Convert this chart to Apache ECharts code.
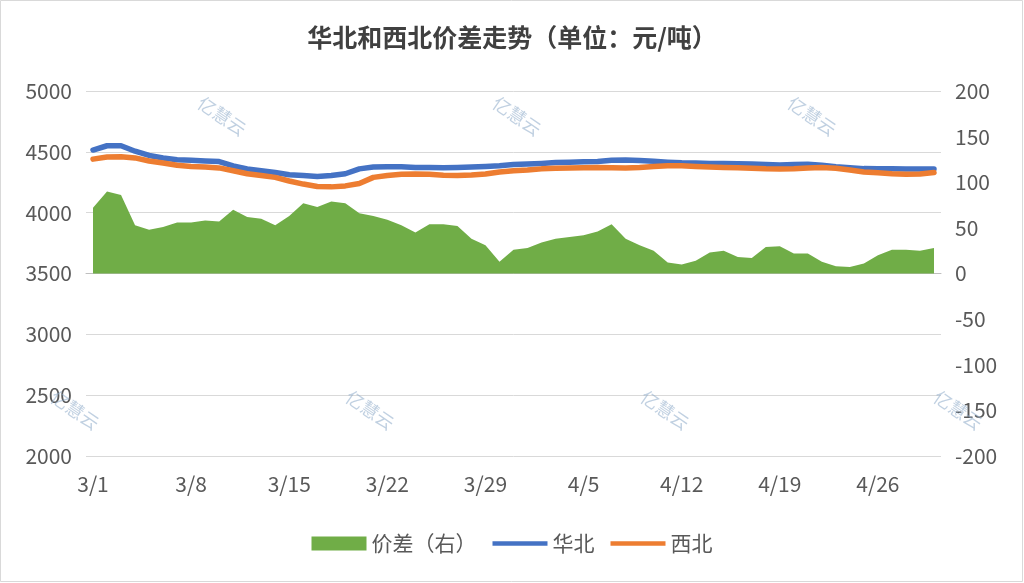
<!DOCTYPE html>
<html>
<head>
<meta charset="utf-8">
<script src="https://cdn.jsdelivr.net/npm/echarts@6/dist/echarts.min.js"></script>
<style>
  html, body { margin: 0; padding: 0; background: #fff; }
  #chart { width: 1024px; height: 583px; }
</style>
</head>
<body>
<div id="chart"></div>
<script>
// Daily dates, 3/1 – 4/30
const dates = [
  '3/1','3/2','3/3','3/4','3/5','3/6','3/7','3/8','3/9','3/10',
  '3/11','3/12','3/13','3/14','3/15','3/16','3/17','3/18','3/19','3/20',
  '3/21','3/22','3/23','3/24','3/25','3/26','3/27','3/28','3/29','3/30',
  '3/31','4/1','4/2','4/3','4/4','4/5','4/6','4/7','4/8','4/9',
  '4/10','4/11','4/12','4/13','4/14','4/15','4/16','4/17','4/18','4/19',
  '4/20','4/21','4/22','4/23','4/24','4/25','4/26','4/27','4/28','4/29','4/30'
];

// 华北 price (left axis, 元/吨)
const northChina = [
  4515, 4550, 4550, 4505, 4470, 4450, 4435, 4430, 4425, 4420,
  4385, 4360, 4345, 4330, 4312, 4305, 4298, 4305, 4320, 4360,
  4375, 4378, 4378, 4372, 4372, 4370, 4372, 4375, 4380, 4385,
  4395, 4400, 4405, 4412, 4415, 4418, 4420, 4430, 4432, 4428,
  4422, 4415, 4410, 4408, 4405, 4405, 4402, 4400, 4395, 4392,
  4395, 4398, 4390, 4378, 4370, 4362, 4360, 4360, 4358, 4358, 4358
];

// 西北 price (left axis, 元/吨)
const northwest = [
  4440, 4458, 4460, 4450, 4425, 4408, 4390, 4380, 4375, 4368,
  4345, 4320, 4305, 4290, 4260, 4235, 4215, 4212, 4220, 4240,
  4290, 4305, 4315, 4318, 4315, 4308, 4305, 4310, 4318, 4335,
  4345, 4350, 4360, 4365, 4368, 4370, 4372, 4370, 4368, 4372,
  4380, 4385, 4385, 4380, 4375, 4372, 4370, 4365, 4360, 4358,
  4360, 4368, 4372, 4365, 4350, 4335, 4328, 4320, 4315, 4318, 4330
];

// 价差 (right axis, 元/吨)
const spread = [
  72, 90, 86, 53, 48, 51, 56, 56, 58, 57,
  70, 62, 60, 53, 63, 77, 73, 79, 77, 66,
  63, 59, 53, 45, 54, 54, 52, 38, 31, 13,
  26, 28, 34, 38, 40, 42, 46, 54, 38, 31,
  25, 12, 10, 14, 23, 25, 18, 17, 29, 30,
  22, 22, 13, 8, 7, 11, 20, 26, 26, 25, 28
];

const seriesNames = ['价差（右）', '华北', '西北'];
const titleText = '华北和西北价差走势（单位：元/吨）';
const watermarkText = '亿慧云';

const FONT = '"Microsoft YaHei", "Noto Sans CJK SC", sans-serif';
const LABEL_COLOR = '#595959';
// Thin bar used as the legend swatch for the two price lines
const LINE_ICON = 'path://M0,0H60V5H0Z';

// Faint diagonal watermark stamps
const stampSpots = [
  [222, 116], [517, 116], [812, 116],
  [75, 410], [370, 410], [665, 410], [958, 410]
];
const stamps = stampSpots.map(([x, y]) => ({
  type: 'text',
  x: x, y: y,
  rotation: -0.6,
  z: 100,
  silent: true,
  style: {
    text: watermarkText,
    fill: 'rgba(140, 170, 200, 0.55)',
    font: '18px ' + FONT,
    textAlign: 'center',
    textVerticalAlign: 'middle'
  }
}));

const plain = (v) => String(v);

const chart = echarts.init(document.getElementById('chart'), null, { renderer: 'canvas' });

chart.setOption({
  backgroundColor: '#ffffff',
  animation: false,
  title: {
    text: titleText,
    left: 'center',
    top: 20,
    textStyle: {
      fontFamily: FONT,
      fontSize: 25,
      fontWeight: 'bold',
      color: '#404040'
    }
  },
  legend: {
    bottom: 24,
    left: 'center',
    itemWidth: 55,
    itemHeight: 14,
    itemGap: 16,
    textStyle: { fontFamily: FONT, fontSize: 21, color: LABEL_COLOR },
    data: [
      { name: seriesNames[0], icon: 'rect' },
      { name: seriesNames[1], icon: LINE_ICON },
      { name: seriesNames[2], icon: LINE_ICON }
    ]
  },
  grid: { left: 86, right: 83, top: 91, bottom: 127 },
  xAxis: {
    type: 'category',
    data: dates,
    boundaryGap: true,
    axisLine: { lineStyle: { color: '#bfbfbf', width: 1 } },
    axisTick: { interval: 6, length: 6, lineStyle: { color: '#bfbfbf' } },
    axisLabel: {
      interval: 6,
      margin: 18,
      fontFamily: FONT,
      fontSize: 21,
      color: LABEL_COLOR
    },
    splitLine: { show: false }
  },
  yAxis: [
    {
      type: 'value',
      min: 2000, max: 5000, interval: 500,
      axisLine: { show: false },
      axisTick: { show: false },
      axisLabel: { margin: 14, fontFamily: FONT, fontSize: 21, color: LABEL_COLOR, formatter: plain },
      splitLine: { lineStyle: { color: '#d9d9d9', width: 1 } }
    },
    {
      type: 'value',
      min: -200, max: 200, interval: 50,
      axisLine: { show: false },
      axisTick: { show: false },
      axisLabel: { margin: 14, fontFamily: FONT, fontSize: 21, color: LABEL_COLOR, formatter: plain },
      splitLine: { show: false }
    }
  ],
  series: [
    {
      name: seriesNames[0],
      type: 'line',
      yAxisIndex: 1,
      data: spread,
      symbol: 'none',
      color: '#70ad47',
      itemStyle: { color: '#70ad47' },
      lineStyle: { width: 0, color: '#70ad47' },
      areaStyle: { color: '#70ad47', opacity: 1 },
      z: 1
    },
    {
      name: seriesNames[1],
      type: 'line',
      yAxisIndex: 0,
      data: northChina,
      symbol: 'none',
      color: '#4472c4',
      itemStyle: { color: '#4472c4' },
      lineStyle: { width: 5.5, color: '#4472c4', cap: 'round', join: 'round' },
      z: 3
    },
    {
      name: seriesNames[2],
      type: 'line',
      yAxisIndex: 0,
      data: northwest,
      symbol: 'none',
      color: '#ed7d31',
      itemStyle: { color: '#ed7d31' },
      lineStyle: { width: 5.5, color: '#ed7d31', cap: 'round', join: 'round' },
      z: 4
    }
  ],
  graphic: [
    {
      type: 'rect',
      shape: { x: 0.5, y: 0.5, width: 1022, height: 581 },
      style: { fill: 'none', stroke: '#d9d9d9', lineWidth: 1 },
      silent: true,
      z: 0
    }
  ].concat(stamps)
});
</script>
</body>
</html>
